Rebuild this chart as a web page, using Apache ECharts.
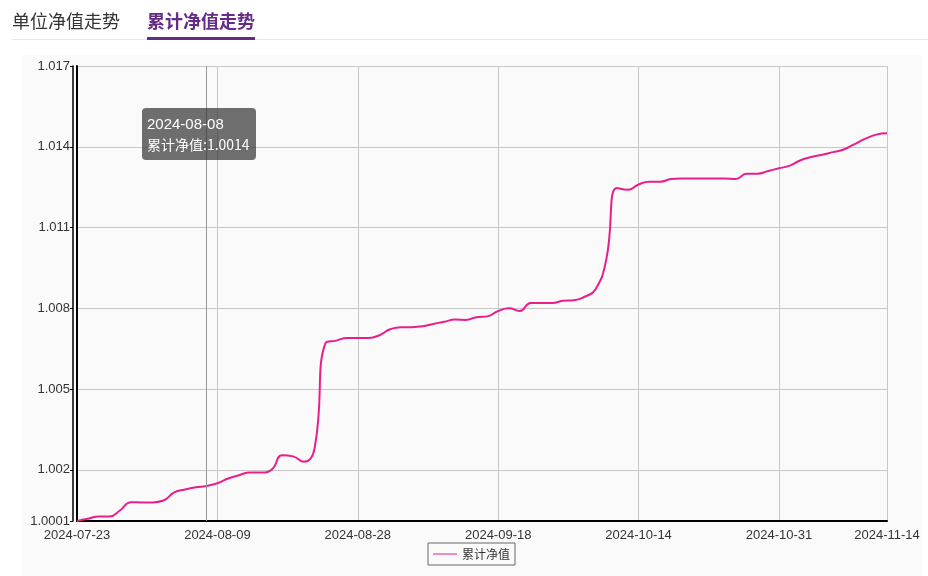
<!DOCTYPE html>
<html><head><meta charset="utf-8">
<script src="https://cdn.jsdelivr.net/npm/echarts@6/dist/echarts.min.js"></script>
<style>
html,body{margin:0;padding:0;background:#ffffff;}
#wrap{position:relative;width:928px;height:576px;overflow:hidden;}
#bg{position:absolute;left:22px;top:55px;width:900px;height:521px;background:#fafafa;}
#c{position:absolute;left:0;top:0;width:928px;height:576px;}
</style>
</head><body>
<div id="wrap"><div id="bg"></div><div id="c"></div></div>
<script>
const tabTitles = ['单位净值走势', '累计净值走势'];
const seriesName = '累计净值';
const dates = [
  '2024-07-23','2024-07-24','2024-07-25','2024-07-26','2024-07-29','2024-07-30','2024-07-31',
  '2024-08-01','2024-08-02','2024-08-05','2024-08-06','2024-08-07','2024-08-08','2024-08-09',
  '2024-08-12','2024-08-13','2024-08-14','2024-08-15','2024-08-16','2024-08-19','2024-08-20',
  '2024-08-21','2024-08-22','2024-08-23','2024-08-26','2024-08-27','2024-08-28',
  '2024-08-29','2024-08-30','2024-09-02','2024-09-03','2024-09-04','2024-09-05','2024-09-06',
  '2024-09-09','2024-09-10','2024-09-11','2024-09-12','2024-09-13','2024-09-18',
  '2024-09-19','2024-09-20','2024-09-23','2024-09-24','2024-09-25','2024-09-26','2024-09-27',
  '2024-09-30','2024-10-08','2024-10-09','2024-10-10','2024-10-11','2024-10-14',
  '2024-10-15','2024-10-16','2024-10-17','2024-10-18','2024-10-21','2024-10-22','2024-10-23',
  '2024-10-24','2024-10-25','2024-10-28','2024-10-29','2024-10-30','2024-10-31',
  '2024-11-01','2024-11-04','2024-11-05','2024-11-06','2024-11-07','2024-11-08',
  '2024-11-11','2024-11-12','2024-11-13','2024-11-14'
];
const navValues = [
  1.0001, 1.00018, 1.00027, 1.00027, 1.0005, 1.0008, 1.00079,
  1.00079, 1.00086, 1.00116, 1.00127, 1.00135, 1.0014, 1.0015,
  1.00168, 1.0018, 1.0019, 1.0019, 1.002, 1.00254, 1.0025,
  1.0023, 1.0028, 1.0067, 1.0068, 1.0069, 1.0069,
  1.0069, 1.0070, 1.00722, 1.0073, 1.0073, 1.00733, 1.00742,
  1.0075, 1.00758, 1.00757, 1.00767, 1.0077, 1.0079,
  1.0080, 1.0079, 1.0082, 1.0082, 1.0082, 1.00828, 1.0083,
  1.00843, 1.0087, 1.0098, 1.01247, 1.0124, 1.0126,
  1.0127, 1.0127, 1.0128, 1.01282, 1.01282, 1.01282, 1.01282,
  1.01282, 1.0128, 1.0130, 1.0130, 1.0131, 1.0132,
  1.0133, 1.0135, 1.01362, 1.0137, 1.0138, 1.0139,
  1.0141, 1.0143, 1.01445, 1.0145
];
const yTicks = [1.0001, 1.002, 1.005, 1.008, 1.011, 1.014, 1.017];
const yMin = 1.0001;
const yMax = 1.017;
const tipIndex = 12;

const numFont = '"Liberation Sans", Arial, sans-serif';
const cjkFont = '"Microsoft YaHei", "Noto Sans CJK SC", sans-serif';
const purple = '#652c87';
const lineColor = '#e91e8c';

const labelEvery = 13;
const showIdx = function (i) { return i % labelEvery === 0 || i === dates.length - 1; };

const chart = echarts.init(document.getElementById('c'), null, { renderer: 'canvas' });

const option = {
  animation: false,
  backgroundColor: 'transparent',
  graphic: [
    { type: 'text', left: 12, top: 12, style: { text: tabTitles[0], font: '18px ' + cjkFont, fill: '#333333' } },
    { type: 'text', left: 147, top: 12, style: { text: tabTitles[1], font: 'bold 18px ' + cjkFont, fill: purple } },
    { type: 'rect', shape: { x: 12, y: 39, width: 916, height: 1 }, style: { fill: '#e6e6e6' } },
    { type: 'rect', shape: { x: 147, y: 37, width: 108, height: 3 }, style: { fill: purple } }
  ],
  grid: { left: 77, right: 41, top: 66, bottom: 55, containLabel: false },
  tooltip: {
    trigger: 'axis',
    triggerOn: 'none',
    alwaysShowContent: true,
    transitionDuration: 0,
    backgroundColor: 'rgba(50,50,50,0.7)',
    borderWidth: 0,
    borderRadius: 4,
    padding: [5, 6, 5, 5],
    extraCssText: 'box-shadow:none;',
    position: function () { return [142, 108]; },
    axisPointer: { type: 'line', lineStyle: { color: '#999999', width: 1, type: 'solid' } },
    formatter: function (params) {
      const p = params[0];
      return '<div style="font-family:' + numFont.replace(/"/g, "'") + ';font-size:15px;line-height:21px;color:#fff;">' + p.axisValue + '</div>' +
        '<div style="font-family:' + cjkFont.replace(/"/g, "'") + ';font-size:14px;line-height:21px;color:#fff;">' + p.seriesName + ':' + Number(p.value).toFixed(4) + '</div>';
    }
  },
  legend: {
    data: [{ name: seriesName, icon: 'rect' }],
    left: 428,
    top: 543,
    padding: [4, 5, 4, 5],
    borderColor: '#666666',
    borderWidth: 1,
    borderRadius: 0,
    itemWidth: 24,
    itemHeight: 1,
    itemGap: 7,
    itemStyle: { color: lineColor },
    textStyle: { fontSize: 12, color: '#333333', fontFamily: cjkFont, lineHeight: 14 }
  },
  xAxis: {
    type: 'category',
    data: dates,
    boundaryGap: false,
    axisLine: { show: true, lineStyle: { color: '#000000', width: 2 } },
    axisTick: { show: false },
    axisLabel: { interval: showIdx, margin: 8, fontSize: 13, color: '#333333', fontFamily: numFont },
    splitLine: { show: true, interval: showIdx, lineStyle: { color: '#c8c8c8', width: 1 } }
  },
  yAxis: [
    {
      type: 'value',
      min: yMin,
      max: yMax,
      axisLine: { show: true, lineStyle: { color: '#000000', width: 2 } },
      axisTick: { show: false, customValues: yTicks },
      axisLabel: {
        customValues: yTicks,
        margin: 7,
        fontSize: 13,
        color: '#333333',
        fontFamily: numFont,
        formatter: function (v) { return String(v); }
      },
      splitLine: { show: true, lineStyle: { color: '#c8c8c8', width: 1 } }
    },
    {
      type: 'value',
      position: 'left',
      offset: 4,
      min: yMin,
      max: yMax,
      axisLine: { show: true, lineStyle: { color: '#000000', width: 1.5 } },
      axisTick: { show: true, customValues: yTicks, length: 3, lineStyle: { color: '#000000' } },
      axisLabel: { show: false, customValues: yTicks },
      splitLine: { show: false }
    }
  ],
  series: [{
    name: seriesName,
    type: 'line',
    data: navValues,
    smooth: true,
    symbol: 'none',
    showSymbol: false,
    yAxisIndex: 0,
    lineStyle: { color: lineColor, width: 2 },
    itemStyle: { color: lineColor },
    emphasis: { disabled: true }
  }]
};
chart.setOption(option);
chart.dispatchAction({ type: 'showTip', seriesIndex: 0, dataIndex: tipIndex });
</script>
</body></html>
